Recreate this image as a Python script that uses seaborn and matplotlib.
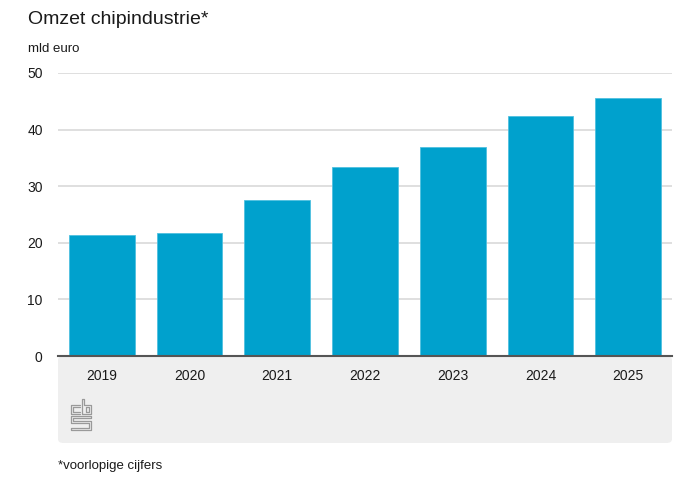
import matplotlib
matplotlib.use("Agg")
import matplotlib.pyplot as plt
from matplotlib.patches import FancyBboxPatch
from matplotlib.lines import Line2D
import seaborn as sns
import pandas as pd

# Chart data
years = ["2019", "2020", "2021", "2022", "2023", "2024", "2025"]
omzet = [21.3, 21.7, 27.5, 33.4, 36.9, 42.4, 45.6]
y_ticks = [0, 10, 20, 30, 40, 50]

BAR_COLOR = "#00A1CD"
PANEL_COLOR = "#EFEFEF"
GRID_COLOR = "#D9D9D9"
TEXT_COLOR = "#1A1A1A"

W, H = 700, 500


def fx(px):
    return px / W


def fy(py):
    return 1 - py / H


sns.set_theme(style="white")
plt.rcParams['font.family'] = ['Liberation Sans', 'DejaVu Sans']

fig = plt.figure(figsize=(7, 5), dpi=100)
fig.patch.set_facecolor("white")

# grey panel behind the x tick labels and logo
panel = FancyBboxPatch((fx(58), fy(443)), fx(672) - fx(58), fy(356) - fy(443),
                       boxstyle="round,pad=0,rounding_size=0.008",
                       transform=fig.transFigure, facecolor=PANEL_COLOR,
                       edgecolor="none", zorder=-1)
fig.patches.append(panel)

ax = fig.add_axes([fx(58), fy(356), fx(672) - fx(58), fy(73) - fy(356)])
ax.set_facecolor("none")
ax.set_zorder(1)

df = pd.DataFrame({"jaar": years, "omzet": omzet})
sns.barplot(data=df, x="jaar", y="omzet", color=BAR_COLOR, saturation=1,
            width=0.75, ax=ax, zorder=3, edgecolor="#4FC0E0", linewidth=0.6)

ax.set_ylim(0, 50)
ax.set_xlim(-0.5, len(years) - 0.5)
ax.set_yticks(y_ticks)
ax.set_yticklabels([str(t) for t in y_ticks], fontsize=10, color=TEXT_COLOR)
ax.tick_params(axis="y", length=0, pad=11)
ax.tick_params(axis="x", length=0, pad=9, labelsize=10, labelcolor=TEXT_COLOR)
ax.set_xlabel("")
ax.set_ylabel("")

ax.yaxis.grid(True, color=GRID_COLOR, linewidth=1.2, zorder=0)
ax.set_axisbelow(True)
for side in ["top", "right", "left"]:
    ax.spines[side].set_visible(False)
ax.spines["bottom"].set_color("#555555")
ax.spines["bottom"].set_linewidth(1.5)
ax.spines["bottom"].set_zorder(5)

# titles and notes
fig.text(fx(28), fy(20), "Omzet chipindustrie*", fontsize=14, color=TEXT_COLOR,
         ha="left", va="center")
fig.text(fx(28), fy(49), "mld euro", fontsize=9.5, color=TEXT_COLOR,
         ha="left", va="center")
fig.text(fx(58), fy(466), "*voorlopige cijfers", fontsize=9.5, color=TEXT_COLOR,
         ha="left", va="center")

# simple cbs logo outline
logo = [
    [(80, 405), (71, 405), (71, 414), (80, 414)],
    [(80, 407), (73, 407), (73, 412), (80, 412)],
    [(82, 414), (82, 399), (84, 399), (84, 405), (91, 405), (91, 414), (82, 414)],
    [(86, 407), (89, 407), (89, 412), (86, 412), (86, 407)],
    [(91, 416), (71, 416), (71, 423), (89, 423), (89, 428), (71, 428), (71, 430),
     (91, 430), (91, 421), (73, 421), (73, 418), (91, 418), (91, 416)],
]
for path in logo:
    xs = [fx(p[0]) for p in path]
    ys = [fy(p[1]) for p in path]
    fig.lines.append(Line2D(xs, ys, transform=fig.transFigure, color="#9A9A9A",
                            linewidth=0.9))

fig.savefig("out.png", dpi=100)
